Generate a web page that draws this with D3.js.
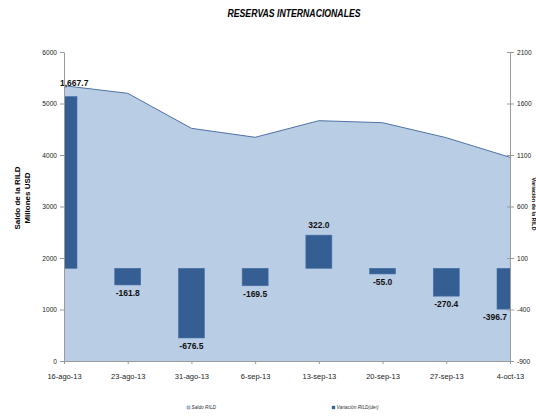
<!DOCTYPE html>
<html>
<head>
<meta charset="utf-8">
<script src="https://cdn.jsdelivr.net/npm/d3@7"></script>
<style>
  body { margin: 0; background: #fff; }
  svg { display: block; font-family: "Liberation Sans Narrow", "Arial Narrow", "Liberation Sans", sans-serif; }
  .axis path, .axis line { stroke: #9a9a9a; }
  .axis text { fill: #222; font-size: 6.6px; }
</style>
</head>
<body>
<svg id="chart" width="536" height="417"></svg>
<script>
// fechas (eje x)
const fechas = ['16-ago-13', '23-ago-13', '31-ago-13', '6-sep-13', '13-sep-13', '20-sep-13', '27-sep-13', '4-oct-13'];
// saldo de la RILD, millones USD (eje izq.)
const saldoRILD = [5346, 5198, 4518, 4344, 4666, 4627, 4336, 3955];
// variación RILD (eje der.)
const variacionRILD = [1667.7, -161.8, -676.5, -169.5, 322.0, -55.0, -270.4, -396.7];
const ticksIzq = [0, 1000, 2000, 3000, 4000, 5000, 6000];
const ticksDer = [-900, -400, 100, 600, 1100, 1600, 2100];

const svg = d3.select('#chart');
const plot = { left: 64, right: 510, top: 52, bottom: 361 };

const x = d3.scalePoint().domain(fechas).range([plot.left, plot.right]);
const yIzq = d3.scaleLinear().domain([0, 6000]).range([plot.bottom, plot.top]);
const yDer = d3.scaleLinear().domain([-900, 2100]).range([plot.bottom, plot.top]);

// guion normal en vez del signo menos
const fmt = d3.formatLocale({ decimal: '.', thousands: ',', grouping: [3], currency: ['', ''], minus: '-' }).format;
const fmtEtiqueta = fmt(',.1f');
const fmtEje = fmt('d');

svg.append('defs').append('clipPath').attr('id', 'clip')
    .append('rect')
    .attr('x', plot.left).attr('y', plot.top)
    .attr('width', plot.right - plot.left).attr('height', plot.bottom - plot.top);

// titulo (condensado)
svg.append('text')
    .attr('transform', 'translate(294,17) scale(0.87,1)')
    .attr('text-anchor', 'middle')
    .style('font-size', '10px').style('font-weight', 'bold').style('font-style', 'italic')
    .text('RESERVAS INTERNACIONALES');

// area saldo
const area = d3.area()
    .x((d, i) => x(fechas[i]))
    .y0(yIzq(0))
    .y1(d => yIzq(d));
const line = d3.line()
    .x((d, i) => x(fechas[i]))
    .y(d => yIzq(d));

svg.append('path').datum(saldoRILD)
    .attr('d', area)
    .attr('fill', '#b9cde5');
svg.append('path').datum(saldoRILD)
    .attr('d', line)
    .attr('fill', 'none')
    .attr('stroke', '#4f72a6')
    .attr('stroke-width', 1);

// barras variacion
const anchoBarra = 26;
svg.append('g').attr('clip-path', 'url(#clip)')
    .selectAll('rect').data(variacionRILD).enter().append('rect')
    .attr('x', (d, i) => x(fechas[i]) - anchoBarra / 2)
    .attr('y', d => yDer(Math.max(0, d)))
    .attr('width', anchoBarra)
    .attr('height', d => Math.abs(yDer(d) - yDer(0)))
    .attr('fill', '#355f93')
    .attr('stroke', '#4a72a8')
    .attr('stroke-width', 0.6);

// etiquetas de datos
svg.append('g').selectAll('text').data(variacionRILD).enter().append('text')
    .attr('x', (d, i) => {
        if (i === 0) return x(fechas[i]) - 4;
        if (i === fechas.length - 1) return x(fechas[i]) - 3;
        return x(fechas[i]);
    })
    .attr('y', (d, i) => d >= 0 ? yDer(d) - (i === 0 ? 11 : 7) : yDer(d) + 11)
    .attr('text-anchor', (d, i) => i === 0 ? 'start' : (i === fechas.length - 1 ? 'end' : 'middle'))
    .style('font-size', '8.5px').style('font-weight', 'bold')
    .attr('fill', '#111')
    .text(d => fmtEtiqueta(d));

// eje izquierdo
svg.append('g').attr('class', 'axis')
    .attr('transform', `translate(${plot.left},0)`)
    .call(d3.axisLeft(yIzq).tickValues(ticksIzq).tickFormat(fmtEje).tickSize(4).tickPadding(3).tickSizeOuter(0));

// eje derecho
const ejeDer = svg.append('g').attr('class', 'axis')
    .attr('transform', `translate(${plot.right},0)`)
    .call(d3.axisRight(yDer).tickValues(ticksDer).tickFormat(fmtEje).tickSize(4).tickPadding(3).tickSizeOuter(0));
ejeDer.selectAll('.tick line').attr('x1', -3).attr('x2', 4);

// eje x
const ejeX = svg.append('g').attr('class', 'axis')
    .attr('transform', `translate(0,${plot.bottom})`)
    .call(d3.axisBottom(x).tickSize(3).tickPadding(10).tickSizeOuter(0));
ejeX.select('.domain').attr('stroke', '#6f8fbd');
ejeX.selectAll('text').style('font-size', '7.5px');

// titulos de ejes
const tituloIzq = svg.append('text')
    .attr('transform', 'translate(22,198) rotate(-90)')
    .attr('text-anchor', 'middle')
    .style('font-size', '8px').style('font-weight', 'bold');
tituloIzq.append('tspan').attr('x', 0).attr('dy', -2).text('Saldo de la RILD');
tituloIzq.append('tspan').attr('x', 0).attr('dy', 10).text('Millones USD');

svg.append('text')
    .attr('transform', 'translate(531.5,204) rotate(90)')
    .attr('text-anchor', 'middle')
    .style('font-size', '5.5px').style('font-weight', 'bold')
    .text('Variación de la RILD');

// leyenda
const leyenda = [
    { nombre: 'Saldo RILD', color: '#b9cde5', x: 187 },
    { nombre: 'Variación RILD(der)', color: '#355f93', x: 332 }
];
const gLey = svg.append('g').selectAll('g').data(leyenda).enter().append('g')
    .attr('transform', d => `translate(${d.x},406)`);
gLey.append('rect')
    .attr('width', 3).attr('height', 3)
    .attr('fill', d => d.color)
    .attr('stroke', '#4f72a6').attr('stroke-width', 0.4);
gLey.append('text')
    .attr('x', 4.5).attr('y', 3.2)
    .style('font-size', '4.8px').style('font-style', 'italic')
    .attr('fill', '#333')
    .text(d => d.nombre);
</script>
</body>
</html>
